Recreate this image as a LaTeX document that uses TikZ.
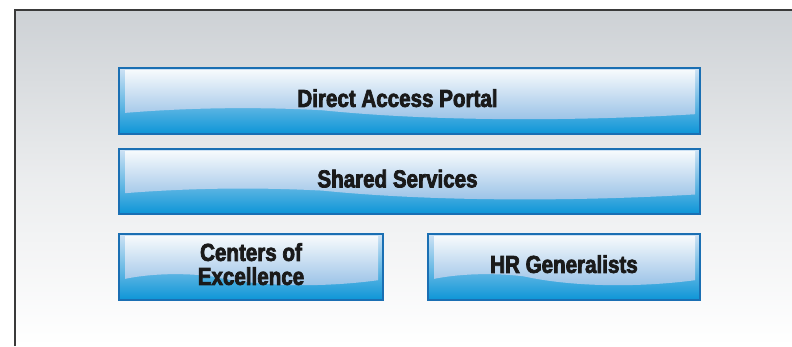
\documentclass[tikz,border=0pt]{standalone}
\usepackage{fontspec}
\setmainfont{Liberation Sans}
\newfontfamily\tierfont[FakeStretch=0.84,FakeBold=3]{Liberation Sans Bold}
\usepackage{tikz}
\usetikzlibrary{positioning, calc}

\definecolor{frameline}{HTML}{3A3A3A}
\definecolor{paneltop}{HTML}{CDD1D5}
\definecolor{tierline}{HTML}{1A6FB3}
\definecolor{tiertop}{HTML}{CFE2F4}
\definecolor{tiermid}{HTML}{6AAFE1}
\definecolor{tierbottom}{HTML}{0C95D7}
\definecolor{glossbottom}{HTML}{8DB7E3}
\definecolor{tiertext}{HTML}{1A1A1A}

\tikzset{
  tier/.style={rectangle, draw=tierline, line width=1.3pt,
    top color=tiertop, middle color=tiermid, bottom color=tierbottom,
    minimum height=66, inner sep=0pt, align=center, text depth=6pt,
    text=tiertext, font=\tierfont\fontsize{24.5}{24}\selectfont,
    path picture={
      \path let \p1=(path picture bounding box.north west),
                \p2=(path picture bounding box.south east),
                \n1={\x2-\x1}, \n2={\y1-\y2} in
        [top color=white, bottom color=glossbottom, opacity=0.9]
        ({\x1+6pt},{\y1-2pt}) -- ({\x2-5pt},{\y1-2pt})
        -- ({\x2-5pt},{\y1-0.70*\n2})
        .. controls ({\x1+0.80*\n1},{\y1-0.80*\n2}) and ({\x1+0.55*\n1},{\y1-0.82*\n2})
        .. ({\x1+0.35*\n1},{\y1-0.64*\n2})
        .. controls ({\x1+0.20*\n1},{\y1-0.57*\n2}) and ({\x1+0.08*\n1},{\y1-0.63*\n2})
        .. ({\x1+6pt},{\y1-0.68*\n2}) -- cycle;
    }},
}

\begin{document}
\begin{tikzpicture}[x=1pt, y=-1pt]
  \useasboundingbox (0,0) rectangle (792,346);
  % panel behind the tiers
  \shade[top color=paneltop, bottom color=white, middle color=paneltop!40!white] (15,10) rectangle (792,346);
  \draw[frameline, line width=2pt] (15,346) -- (15,10) -- (792,10);

  % tiers
  \node[tier, minimum width=581] (portal) at (409.5, 101) {Direct Access Portal\hspace{24pt}};
  \node[tier, minimum width=581, minimum height=65] (shared) at (409.5, 181.5) {Shared Services\hspace{24pt}};
  \node[tier, minimum width=264] (coe) at (251, 267) {Centers of\\Excellence};
  \node[tier, minimum width=272] (hrg) at (564, 267) {HR Generalists};
\end{tikzpicture}
\end{document}
